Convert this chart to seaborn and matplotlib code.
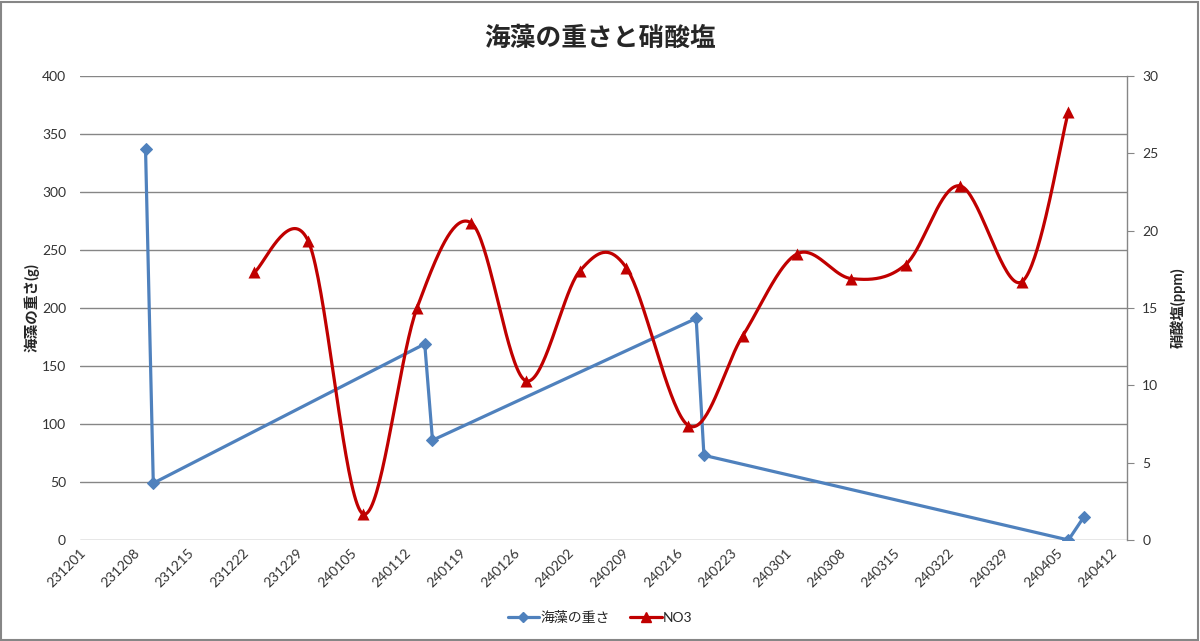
import numpy as np
import pandas as pd
import seaborn as sns
import matplotlib
matplotlib.use('Agg')
import matplotlib.pyplot as plt
import matplotlib.dates as mdates
from matplotlib.lines import Line2D
from matplotlib.patches import Rectangle
from matplotlib.transforms import ScaledTranslation

# seaweed weight (g), left axis
weight_dates = ['2023-12-09', '2023-12-10', '2024-01-14', '2024-01-15',
                '2024-02-18', '2024-02-19', '2024-04-06', '2024-04-08']
weight_vals = [337, 49, 169, 86, 191, 73, 0, 20]

# nitrate NO3 (ppm), right axis
no3_dates = ['2023-12-23', '2023-12-30', '2024-01-06', '2024-01-13', '2024-01-20',
             '2024-01-27', '2024-02-03', '2024-02-09', '2024-02-17', '2024-02-24',
             '2024-03-02', '2024-03-09', '2024-03-16', '2024-03-23', '2024-03-31',
             '2024-04-06']
no3_vals = [17.3, 19.3, 1.7, 15.0, 20.5, 10.3, 17.4, 17.6, 7.4, 13.2,
            18.5, 16.9, 17.8, 22.9, 16.7, 27.7]

x_start, x_end = '2023-12-01', '2024-04-14'

sns.set_style('white')
plt.rcParams['font.family'] = ['Lato', 'Noto Sans CJK JP', 'DejaVu Sans']

blue = '#4F81BD'
red = '#C00000'
grid_col = '#868686'

w_df = pd.DataFrame({'x': mdates.date2num(pd.to_datetime(weight_dates)), 'y': weight_vals})
n_df = pd.DataFrame({'x': mdates.date2num(pd.to_datetime(no3_dates)), 'y': no3_vals})
x0 = mdates.date2num(pd.Timestamp(x_start)) - 0.45
x1 = mdates.date2num(pd.Timestamp(x_end)) - 0.45

fig = plt.figure(figsize=(12, 6.41), dpi=100)
ax = fig.add_axes([80 / 1200, 1 - 540 / 641, 1047 / 1200, 464 / 641])
ax2 = ax.twinx()


# Excel-style smoothed line (Catmull-Rom bezier in screen space)
def smooth(xs, ys, sx, sy, n=40):
    P = np.column_stack([np.asarray(xs) * sx, np.asarray(ys) * sy])
    P = np.vstack([P[0], P, P[-1]])
    out = []
    for i in range(1, len(P) - 2):
        p0, p1, p2, p3 = P[i - 1], P[i], P[i + 1], P[i + 2]
        c1 = p1 + (p2 - p0) / 6
        c2 = p2 - (p3 - p1) / 6
        t = np.linspace(0, 1, n)[:, None]
        seg = (1 - t) ** 3 * p1 + 3 * (1 - t) ** 2 * t * c1 + 3 * (1 - t) * t ** 2 * c2 + t ** 3 * p2
        out.append(seg)
    out = np.vstack(out)
    return out[:, 0] / sx, out[:, 1] / sy


sx = 1047 / (x1 - x0)
sy = 464 / 30
cx, cy = smooth(n_df['x'], n_df['y'], sx, sy)
curve = pd.DataFrame({'x': cx, 'y': cy})

sns.lineplot(data=w_df, x='x', y='y', ax=ax, color=blue, lw=2.3, sort=False,
             marker='D', markersize=6, markeredgecolor=blue, zorder=3)
sns.lineplot(data=curve, x='x', y='y', ax=ax2, color=red, lw=2.3, sort=False, zorder=3)
sns.scatterplot(data=n_df, x='x', y='y', ax=ax2, color=red, marker='^', s=75,
                edgecolor=red, linewidth=0, zorder=4)

ax.set_xlim(x0, x1)
ax.set_ylim(0, 400)
ax.set_yticks(range(0, 401, 50))
ax2.set_ylim(0, 30)
ax2.set_yticks(range(0, 31, 5))

ax.set_xticks(mdates.date2num(pd.date_range('2023-12-01', '2024-04-12', freq='7D')))
ax.xaxis.set_major_formatter(mdates.DateFormatter('%y%m%d'))
shift = ScaledTranslation(3.5 / 100, -2 / 100, fig.dpi_scale_trans)
for lab in ax.get_xticklabels():
    lab.set_rotation(45)
    lab.set_ha('right')
    lab.set_va('center')
    lab.set_rotation_mode('anchor')
    lab.set_transform(lab.get_transform() + shift)

ax.grid(axis='y', color=grid_col, lw=1)
ax.set_axisbelow(True)
for s in ['top', 'left', 'right', 'bottom']:
    ax.spines[s].set_visible(False)
    ax2.spines[s].set_visible(False)
ax2.spines['right'].set_visible(True)
ax2.spines['right'].set_color(grid_col)
ax2.spines['right'].set_linewidth(1)

ax.tick_params(axis='y', length=0, labelsize=10, labelcolor='#333333', pad=10)
ax.tick_params(axis='x', length=0, labelsize=10, labelcolor='#333333', pad=8)
ax2.tick_params(axis='y', length=5, color=grid_col, labelsize=10, labelcolor='#333333', pad=6)

ax.set_xlabel('')
ax.set_ylabel('海藻の重さ(g)', fontsize=10.5, fontweight='bold', labelpad=2)
ax2.set_ylabel('硝酸塩(ppm)', fontsize=10.5, fontweight='bold', labelpad=8, rotation=90)

fig.text(0.5, 1 - 38 / 641, '海藻の重さと硝酸塩', ha='center', va='center',
         fontsize=18.5, fontweight='bold', family=['Noto Sans CJK JP'])

handles = [Line2D([], [], color=blue, lw=2.3, marker='D', markersize=5),
           Line2D([], [], color=red, lw=2.3, marker='^', markersize=7)]
fig.legend(handles, ['海藻の重さ', 'NO3'], loc='center', bbox_to_anchor=(0.5, 1 - 617 / 641),
           ncol=2, frameon=False, fontsize=10, handlelength=2.3, columnspacing=1.4,
           handletextpad=0.1)

fig.patches.append(Rectangle((0.001, 0.002), 0.997, 0.995, transform=fig.transFigure,
                             fill=False, edgecolor=grid_col, lw=1.5))

fig.savefig('out.png', dpi=100)
